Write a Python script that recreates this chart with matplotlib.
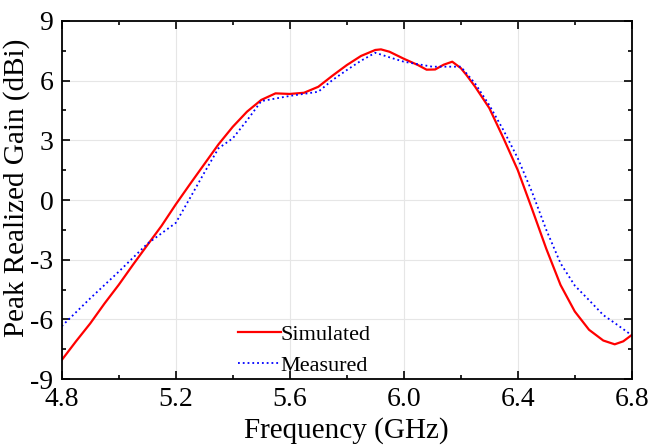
import matplotlib
matplotlib.use("Agg")
import matplotlib.pyplot as plt
from matplotlib.ticker import MultipleLocator

# values
sim_freq = [4.80, 4.85, 4.90, 4.95, 5.00, 5.05, 5.10, 5.15, 5.20, 5.25, 5.30, 5.35,
            5.40, 5.45, 5.50, 5.55, 5.60, 5.65, 5.70, 5.75, 5.80, 5.85, 5.90, 5.92,
            5.95, 6.00, 6.05, 6.08, 6.11, 6.14, 6.17, 6.20, 6.22, 6.25, 6.30, 6.35,
            6.40, 6.45, 6.50, 6.55, 6.60, 6.65, 6.70, 6.74, 6.77, 6.80]
sim_gain = [-8.04, -7.1, -6.2, -5.2, -4.26, -3.25, -2.27, -1.3, -0.22, 0.8, 1.8, 2.8,
            3.68, 4.44, 5.03, 5.36, 5.33, 5.39, 5.69, 6.25, 6.78, 7.24, 7.54, 7.57,
            7.45, 7.1, 6.78, 6.55, 6.56, 6.8, 6.95, 6.63, 6.28, 5.7, 4.62, 3.1,
            1.5, -0.45, -2.45, -4.27, -5.6, -6.52, -7.06, -7.25, -7.1, -6.78]

meas_freq = [4.80, 4.90, 5.00, 5.10, 5.20, 5.25, 5.30, 5.35, 5.40, 5.45, 5.50, 5.60,
             5.70, 5.75, 5.80, 5.85, 5.90, 5.95, 6.00, 6.10, 6.20, 6.25, 6.30, 6.35,
             6.40, 6.45, 6.50, 6.55, 6.60, 6.65, 6.70, 6.75, 6.80]
meas_gain = [-6.34, -4.94, -3.6, -2.2, -1.15, 0.1, 1.37, 2.6, 3.1, 4.0, 4.97, 5.23,
             5.44, 6.03, 6.53, 7.0, 7.4, 7.17, 6.95, 6.7, 6.7, 5.86, 4.77, 3.5,
             2.1, 0.4, -1.5, -3.18, -4.3, -5.03, -5.78, -6.28, -6.8]

xticks = [4.8, 5.2, 5.6, 6.0, 6.4, 6.8]
yticks = [-9, -6, -3, 0, 3, 6, 9]

plt.rcParams['font.family'] = ['Liberation Serif', 'DejaVu Serif']

fig = plt.figure(figsize=(6.5, 4.45), dpi=100)
ax = fig.add_axes([0.095, 0.148, 0.877, 0.805])

ax.plot(sim_freq, sim_gain, color='red', lw=1.6, label='Simulated')
ax.plot(meas_freq, meas_gain, color='blue', lw=1.3, ls=':', label='Measured')

ax.set_xlim(4.8, 6.8)
ax.set_ylim(-9, 9)
ax.set_xticks(xticks)
ax.set_xticklabels(['%.1f' % t for t in xticks])
ax.set_yticks(yticks)
ax.set_yticklabels(['%d' % t for t in yticks])  # plain hyphen, like the original
ax.xaxis.set_minor_locator(MultipleLocator(0.2))
ax.yaxis.set_minor_locator(MultipleLocator(1.5))
ax.tick_params(which='both', direction='in', top=True, right=True, width=1.2)
ax.tick_params(which='major', length=6, labelsize=20, pad=6)
ax.tick_params(which='minor', length=3)
ax.grid(True, which='major', color='#e6e6e6', lw=0.8)
for s in ax.spines.values():
    s.set_linewidth(1.3)

ax.set_xlabel('Frequency (GHz)', fontsize=21)
ax.xaxis.set_label_coords(0.5, -0.105)
ax.set_ylabel('Peak Realized Gain (dBi)', fontsize=21)
ax.yaxis.set_label_coords(-0.055, 0.535)

ax.legend(loc='lower left', bbox_to_anchor=(0.31, 0.01), frameon=False,
          fontsize=16, handlelength=1.9, handletextpad=0.0, labelspacing=0.45,
          borderpad=0, borderaxespad=0)

fig.savefig('out.png')
